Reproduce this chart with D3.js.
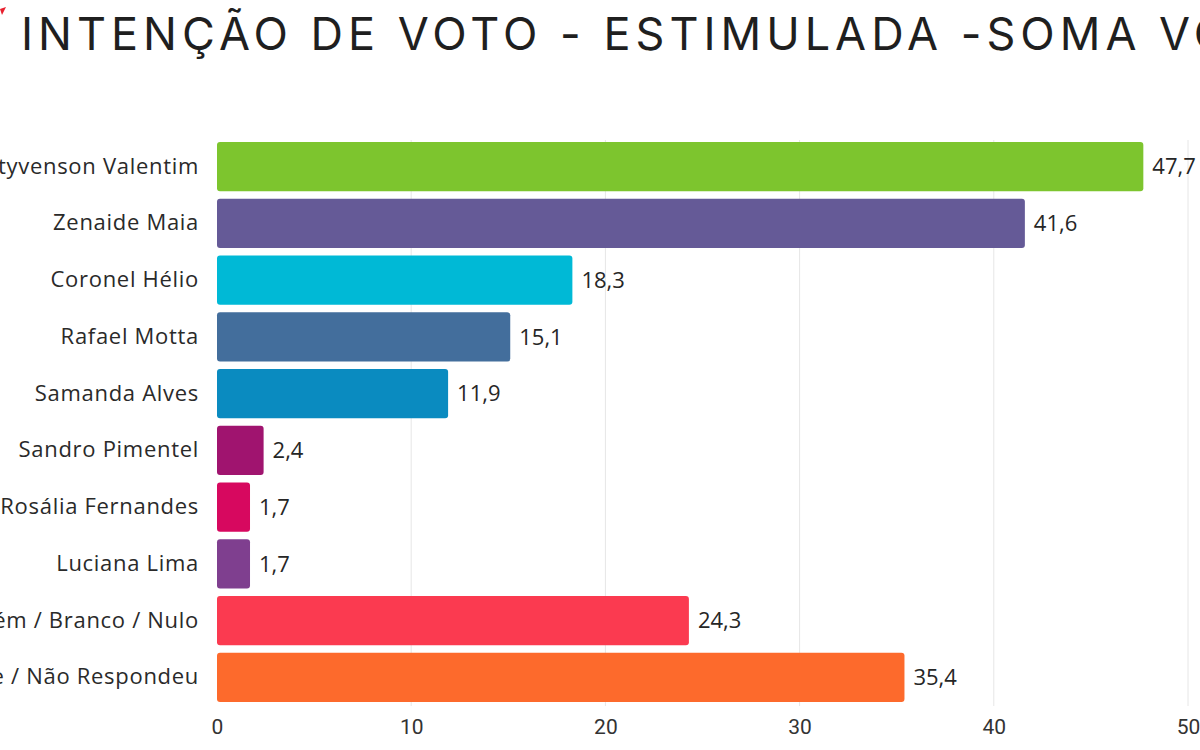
<!DOCTYPE html>
<html>
<head>
<meta charset="utf-8">
<script src="https://cdn.jsdelivr.net/npm/d3@7"></script>
<style>
  body { margin: 0; background: #ffffff; overflow: hidden; }
  #chart { width: 1200px; height: 750px; }
</style>
</head>
<body>
<div id="chart"></div>
<script>
// data
var candidates = ["Styvenson Valentim", "Zenaide Maia", "Coronel Hélio", "Rafael Motta",
  "Samanda Alves", "Sandro Pimentel", "Rosália Fernandes", "Luciana Lima",
  "Ninguém / Branco / Nulo", "Não Sabe / Não Respondeu"];
var votes = [47.7, 41.6, 18.3, 15.1, 11.9, 2.4, 1.7, 1.7, 24.3, 35.4];
var barColors = ["#7dc52e", "#655a97", "#00b9d6", "#436e9c", "#0a8bc0",
  "#a0146f", "#d7085f", "#7f3f8f", "#fb3a50", "#fd6a2c"];
var xTicks = [0, 10, 20, 30, 40, 50];
var title = "INTENÇÃO DE VOTO - ESTIMULADA -SOMA VOTOS";

function drawBarChart(){
    var margin = {top: 138, right: 12, bottom: 44, left: 217},
        width = 1200 - margin.left - margin.right,
        height = 750 - margin.top - margin.bottom;

    var root = d3.select("#chart")
        .append("svg")
        .attr("width", 1200)
        .attr("height", 750);

    // little red mark in the corner
    root.append("path")
        .attr("d", "M0,9 L6,7 L2,15 Z")
        .attr("fill", "#e8202e");

    root.append("text")
        .attr("x", 21)
        .attr("y", 50)
        .text(title)
        .style("font-family", "Inter, 'Open Sans', sans-serif")
        .style("font-weight", 400)
        .style("font-size", "45px")
        .style("letter-spacing", "5px")
        .style("fill", "#1f1f1f");

    var svg = root.append("g")
        .attr("transform", "translate(" + margin.left + "," + margin.top + ")");

    var x = d3.scaleLinear()
        .domain([0, 50])
        .range([0, 971]);

    var y = d3.scaleBand()
        .domain(candidates)
        .range([0, 568])
        .paddingInner(0.13)
        .paddingOuter(0.07);

    // grid
    svg.append("g")
        .selectAll("line")
        .data(xTicks.slice(1))
        .enter()
        .append("line")
        .attr("x1", d => x(d))
        .attr("x2", d => x(d))
        .attr("y1", 2)
        .attr("y2", height)
        .attr("stroke", "#e6e6e6")
        .attr("stroke-width", 1);

    var xAxis = svg.append("g")
        .attr("transform", "translate(0," + (height - 2) + ")")
        .call(d3.axisBottom(x).tickValues(xTicks).tickSize(0).tickPadding(15));
    xAxis.select(".domain").remove();
    xAxis.selectAll("text")
        .style("font-family", "Roboto, sans-serif")
        .style("font-size", "21px")
        .style("fill", "#333");

    var yAxis = svg.append("g")
        .call(d3.axisLeft(y).tickSize(0).tickPadding(18));
    yAxis.select(".domain").remove();
    yAxis.selectAll("text")
        .style("font-family", "'Open Sans', sans-serif")
        .style("font-size", "22px")
        .style("letter-spacing", "0.7px")
        .style("fill", "#2a2a2a");

    var rows = candidates.map((c, i) => ({name: c, value: votes[i], color: barColors[i]}));

    svg.append("g")
        .selectAll("rect")
        .data(rows)
        .enter()
        .append("rect")
        .attr("x", x(0))
        .attr("y", d => y(d.name))
        .attr("width", d => x(d.value) - x(0))
        .attr("height", y.bandwidth())
        .attr("rx", 3)
        .attr("fill", d => d.color);

    svg.append("g")
        .selectAll("text")
        .data(rows)
        .enter()
        .append("text")
        .attr("x", d => x(d.value) + 9)
        .attr("y", d => y(d.name) + y.bandwidth() / 2)
        .attr("dy", "0.35em")
        .text(d => d3.format(".1f")(d.value).replace(".", ","))
        .style("font-family", "'Open Sans', sans-serif")
        .style("font-size", "22px")
        .style("fill", "#262626");
}

drawBarChart()
</script>
</body>
</html>
